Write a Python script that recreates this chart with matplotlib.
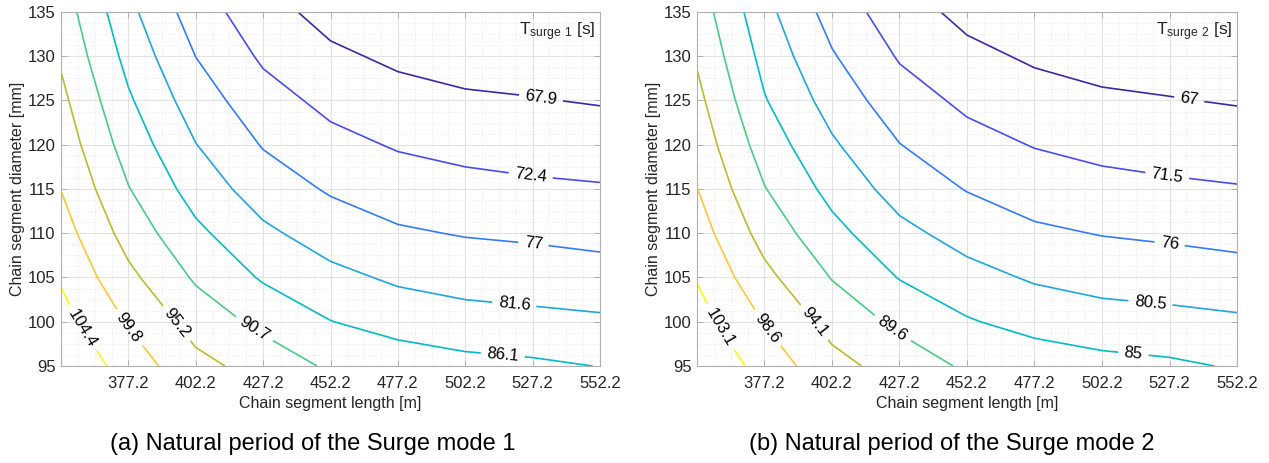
import numpy as np
import matplotlib
matplotlib.use("Agg")
import matplotlib.pyplot as plt
from matplotlib.colors import LinearSegmentedColormap
from matplotlib.ticker import AutoMinorLocator

plt.rcParams['font.family'] = ['Liberation Sans', 'DejaVu Sans']
plt.rcParams['mathtext.fontset'] = 'custom'
plt.rcParams['mathtext.rm'] = 'Liberation Sans'
plt.rcParams['mathtext.default'] = 'regular'

# chain segment length [m] and diameter [mm]
length = [352.2, 377.2, 402.2, 427.2, 452.2, 477.2, 502.2, 527.2, 552.2]
diameter = [95, 100, 105, 110, 115, 120, 125, 130, 135]

# natural periods [s], one list per length (diameter 95 -> 135)
T_surge1 = [
    [108.4, 106.1, 103.9, 101.8, 99.7, 97.9, 96.3, 94.6, 93.1],
    [102.5, 99.4, 96.3, 93.4, 90.9, 88.7, 86.7, 84.7, 82.8],
    [96.5, 93.4, 90.1, 87.1, 84.2, 81.7, 79.3, 76.95, 74.7],
    [93.5, 89.5, 85.6, 82.5, 79.4, 76.7, 74.2, 71.7, 69.5],
    [90.0, 86.2, 82.8, 79.5, 76.5, 73.7, 71.2, 68.7, 66.4],
    [88.7, 84.3, 80.9, 77.6, 74.6, 72.0, 69.4, 67.1, 65.0],
    [87.5, 83.2, 80.0, 76.7, 73.7, 71.1, 68.5, 66.2, 64.2],
    [86.9, 82.7, 79.6, 76.2, 73.1, 70.7, 68.1, 65.9, 63.8],
    [86.0, 82.3, 78.9, 75.6, 72.8, 70.1, 67.6, 65.4, 63.3],
]
T_surge2 = [
    [107.3, 105.0, 102.8, 100.7, 98.7, 96.9, 95.3, 93.6, 92.1],
    [101.4, 98.4, 95.3, 92.4, 89.8, 87.5, 85.3, 83.6, 81.9],
    [95.5, 92.6, 89.4, 86.4, 83.6, 81.1, 78.7, 76.4, 74.2],
    [92.3, 88.6, 84.8, 81.7, 78.7, 76.1, 73.5, 71.1, 68.9],
    [88.9, 85.4, 82.0, 78.8, 75.8, 73.0, 70.6, 68.1, 65.8],
    [87.7, 83.4, 80.0, 76.8, 73.8, 71.3, 68.7, 66.4, 64.3],
    [86.5, 82.2, 79.0, 75.8, 72.8, 70.3, 67.7, 65.4, 63.4],
    [85.8, 81.7, 78.6, 75.2, 72.2, 69.8, 67.2, 65.1, 63.0],
    [84.6, 81.2, 77.8, 74.6, 71.8, 69.1, 66.7, 64.5, 62.4],
]

levels1 = [67.9, 72.4, 77.0, 81.6, 86.1, 90.7, 95.2, 99.8, 104.4]
levels2 = [67.0, 71.5, 76.0, 80.5, 85.0, 89.6, 94.1, 98.6, 103.1]

# where the contour labels sit
label_pos1 = [(530.2, 125.1), (526.4, 116.3), (527.3, 108.4), (520.3, 101.7), (516.0, 95.8),
              (423.1, 98.8), (394.7, 99.7), (376.5, 99.1), (359.3, 99.1)]
label_pos2 = [(534.4, 125.0), (526.2, 116.2), (527.0, 108.3), (520.1, 102.0), (513.7, 96.0),
              (423.6, 98.8), (394.7, 99.7), (377.4, 99.1), (359.3, 99.1)]

xticks = [377.2, 402.2, 427.2, 452.2, 477.2, 502.2, 527.2, 552.2]
yticks = [95, 100, 105, 110, 115, 120, 125, 130, 135]

# parula-like colormap, levels spread over the full range
parula = LinearSegmentedColormap.from_list("parula", [
    (0.2422, 0.1504, 0.6603), (0.2813, 0.2985, 0.9397), (0.2006, 0.4803, 0.9906),
    (0.1288, 0.6408, 0.8910), (0.0090, 0.7330, 0.7620), (0.2809, 0.7964, 0.5266),
    (0.7300, 0.7300, 0.1900), (0.9966, 0.7740, 0.2138), (0.9769, 0.9839, 0.0805)])
line_colors = parula(np.linspace(0, 1, 9))

fig = plt.figure(figsize=(12.69, 4.63), dpi=100)
ax1 = fig.add_axes([0.0481, 0.2095, 0.4247, 0.7646])
ax2 = fig.add_axes([0.5492, 0.2095, 0.4256, 0.7646])

panels = [(ax1, T_surge1, levels1, label_pos1, 'T$_{surge\\ 1}$ [s]'),
          (ax2, T_surge2, levels2, label_pos2, 'T$_{surge\\ 2}$ [s]')]

for ax, T, lev, pos, name in panels:
    Z = np.array(T).T
    cs = ax.contour(length, diameter, Z, levels=lev, colors=line_colors, linewidths=1.2)
    ax.clabel(cs, fmt='%g', fontsize=12, colors='black', inline=True,
              inline_spacing=6, manual=pos)
    ax.set_xlim(352.2, 552.2)
    ax.set_ylim(95, 135)
    ax.set_xticks(xticks)
    ax.set_yticks(yticks)
    ax.xaxis.set_minor_locator(AutoMinorLocator(4))
    ax.yaxis.set_minor_locator(AutoMinorLocator(4))
    ax.set_axisbelow(True)
    ax.grid(which='major', color='#e2e2e2', linewidth=0.8)
    ax.grid(which='minor', color='#ececec', linewidth=0.6, linestyle=(0, (2, 2)))
    ax.tick_params(which='major', direction='in', top=True, right=True, length=4,
                   width=0.6, color='#a8a8a8', labelsize=12, labelcolor='#262626')
    ax.tick_params(axis='x', pad=7)
    ax.tick_params(axis='y', pad=4)
    ax.tick_params(which='minor', length=0)
    for s in ax.spines.values():
        s.set_color('#b0b0b0')
        s.set_linewidth(0.8)
    ax.set_xlabel('Chain segment length [m]', fontsize=11.5, color='#262626', labelpad=4)
    ax.set_ylabel('Chain segment diameter [mm]', fontsize=11.5, color='#262626', labelpad=2)
    ax.text(0.992, 0.975, name, transform=ax.transAxes, ha='right', va='top',
            fontsize=12.5, color='#262626')

fig.text(313 / 1269, 0.041, '(a) Natural period of the Surge mode 1', ha='center',
         va='center', fontsize=17)
fig.text(951.5 / 1269, 0.041, '(b) Natural period of the Surge mode 2', ha='center',
         va='center', fontsize=17)

fig.savefig('out.png', dpi=100)
